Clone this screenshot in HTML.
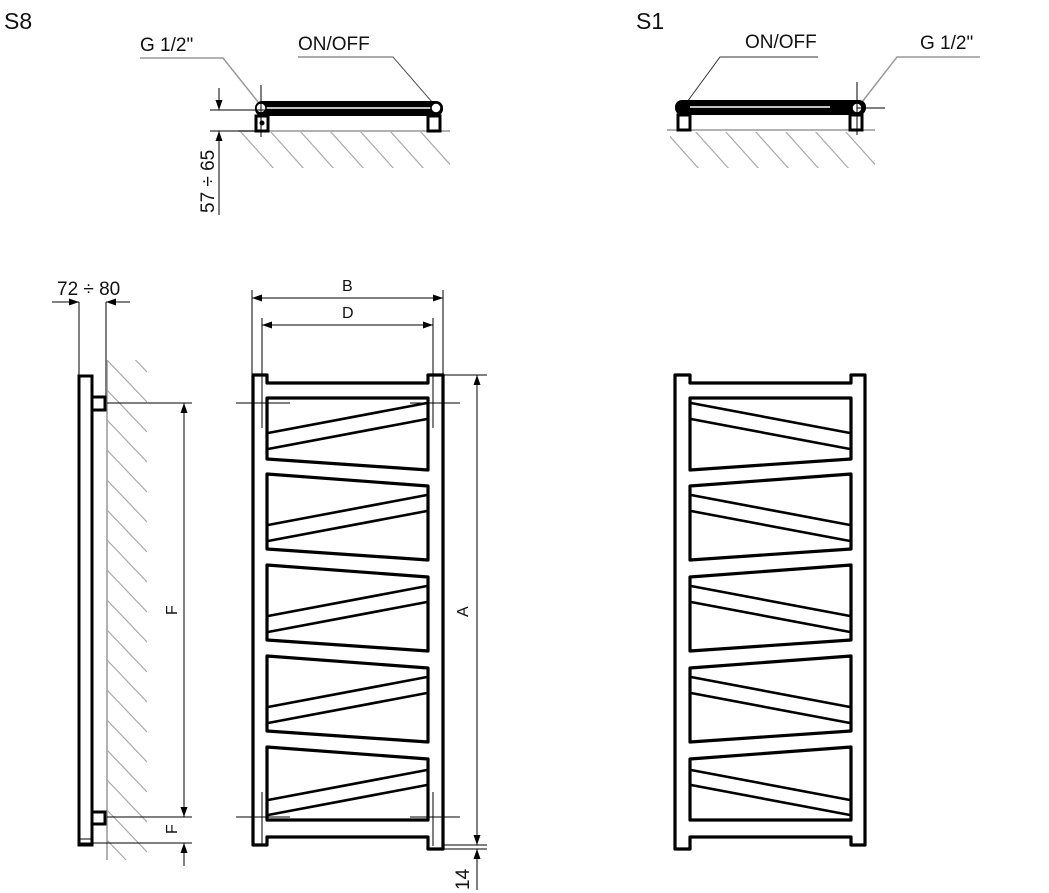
<!DOCTYPE html>
<html><head><meta charset="utf-8"><style>
html,body{margin:0;padding:0;background:#fff;}
svg{display:block;}
text{font-family:"Liberation Sans",sans-serif;fill:#111;}
</style></head><body>
<svg width="1049" height="893" viewBox="0 0 1049 893" xmlns="http://www.w3.org/2000/svg">
<defs>
<marker id="ar" viewBox="0 0 10 10" refX="10" refY="5" markerWidth="10" markerHeight="10" markerUnits="userSpaceOnUse" orient="auto-start-reverse"><path d="M0,1.5 L10,5 L0,8.5 Z" fill="#000"/></marker>
<clipPath id="c1"><rect x="107" y="360" width="40" height="500"/></clipPath>
<clipPath id="c2"><rect x="238" y="132" width="212" height="36"/></clipPath>
<clipPath id="c3"><rect x="670" y="132" width="205" height="36"/></clipPath>
<g id="front">
<path d="M253,845 L253,375 L267,375 L267,383 L428,383 L428,375 L443,375 L443,849 L428,849 L428,837 L267,837 L267,845 Z" fill="none" stroke="#000" stroke-width="3.2" stroke-linejoin="round"/>
<g fill="none" stroke="#000" stroke-width="3.2" stroke-linejoin="round">
<polygon points="267,398 428,398 428,470 267,459"/>
<polygon points="267,474 428,486 428,560 267,549"/>
<polygon points="267,565 428,577 428,651 267,640"/>
<polygon points="267,656 428,668 428,742 267,731"/>
<polygon points="267,747 428,759 428,820 267,820"/>
</g>
<g stroke="#000" stroke-width="2.6">
<line x1="268" y1="433" x2="427" y2="403"/><line x1="268" y1="449" x2="427" y2="419"/>
<line x1="268" y1="525" x2="427" y2="495"/><line x1="268" y1="541" x2="427" y2="511"/>
<line x1="268" y1="616" x2="427" y2="586"/><line x1="268" y1="632" x2="427" y2="602"/>
<line x1="268" y1="707" x2="427" y2="677"/><line x1="268" y1="723" x2="427" y2="693"/>
<line x1="268" y1="800" x2="427" y2="770"/><line x1="268" y1="815" x2="427" y2="785"/>
</g>
</g>
</defs>

<text x="4" y="29" font-size="23">S8</text>
<text x="636" y="29" font-size="23">S1</text>

<!-- S8 top view -->
<text x="140" y="51" font-size="19">G 1/2"</text>
<text x="298" y="50" font-size="19">ON/OFF</text>
<polyline points="140,58 223,58 258,102" fill="none" stroke="#999" stroke-width="1.5"/>
<polyline points="298,57 393,57 432,102" fill="none" stroke="#555" stroke-width="1"/>
<line x1="238" y1="131" x2="450" y2="131" stroke="#999" stroke-width="1.5"/>
<g clip-path="url(#c2)" stroke="#aaa" stroke-width="1.2">
<line x1="240" y1="131" x2="275" y2="170"/><line x1="270" y1="131" x2="305" y2="170"/><line x1="300" y1="131" x2="335" y2="170"/><line x1="330" y1="131" x2="365" y2="170"/><line x1="360" y1="131" x2="395" y2="170"/><line x1="390" y1="131" x2="425" y2="170"/><line x1="420" y1="131" x2="455" y2="170"/>
</g>
<rect x="255" y="101" width="188" height="15" rx="7" fill="#000"/>
<line x1="266" y1="108" x2="432" y2="108" stroke="#fff" stroke-width="1.5"/>
<circle cx="261" cy="108" r="5" fill="#fff" stroke="#000" stroke-width="1.5"/>
<circle cx="436" cy="108" r="5" fill="#fff" stroke="#000" stroke-width="1.5"/>
<rect x="256" y="116" width="12" height="15" fill="#fff" stroke="#000" stroke-width="3"/>
<circle cx="262" cy="123" r="2.5" fill="#000"/>
<rect x="428" y="116" width="12" height="15" fill="#fff" stroke="#000" stroke-width="3"/>
<line x1="261" y1="85" x2="261" y2="137" stroke="#000"/>
<line x1="210" y1="110" x2="265" y2="110" stroke="#000"/>
<line x1="210" y1="131" x2="262" y2="131" stroke="#000"/>
<line x1="219" y1="88" x2="219" y2="110" stroke="#000" marker-end="url(#ar)"/>
<line x1="219" y1="215" x2="219" y2="131" stroke="#000" marker-end="url(#ar)"/>
<text transform="translate(214,213) rotate(-90)" font-size="19">57 ÷ 65</text>

<!-- S1 top view -->
<text x="745" y="48" font-size="19">ON/OFF</text>
<text x="920" y="49" font-size="19">G 1/2"</text>
<polyline points="818,57 720,57 687,102" fill="none" stroke="#333" stroke-width="1"/>
<polyline points="980,57 897,57 862,102" fill="none" stroke="#999" stroke-width="1.5"/>
<line x1="667" y1="130" x2="875" y2="130" stroke="#999" stroke-width="1.5"/>
<g clip-path="url(#c3)" stroke="#aaa" stroke-width="1.2">
<line x1="665" y1="131" x2="700" y2="170"/><line x1="695" y1="131" x2="730" y2="170"/><line x1="725" y1="131" x2="760" y2="170"/><line x1="755" y1="131" x2="790" y2="170"/><line x1="785" y1="131" x2="820" y2="170"/><line x1="815" y1="131" x2="850" y2="170"/><line x1="845" y1="131" x2="880" y2="170"/>
</g>
<rect x="675" y="100" width="191" height="15" rx="7" fill="#000"/>
<line x1="690" y1="107" x2="830" y2="107" stroke="#fff" stroke-width="1.5"/>
<circle cx="857" cy="108" r="5" fill="#fff" stroke="#000" stroke-width="1.5"/>
<rect x="678" y="115" width="12" height="15" fill="#fff" stroke="#000" stroke-width="3"/>
<rect x="850" y="115" width="12" height="15" fill="#fff" stroke="#000" stroke-width="3"/>
<line x1="857" y1="82" x2="857" y2="135" stroke="#000"/>
<line x1="857" y1="108" x2="885" y2="108" stroke="#000"/>

<!-- side view -->
<text x="57" y="295" font-size="19">72 ÷ 80</text>
<line x1="79" y1="302" x2="79" y2="375" stroke="#000"/>
<line x1="106" y1="302" x2="106" y2="400" stroke="#000"/>
<line x1="52" y1="302" x2="79" y2="302" stroke="#000" marker-end="url(#ar)"/>
<line x1="130" y1="302" x2="106" y2="302" stroke="#000" marker-end="url(#ar)"/>
<line x1="107" y1="360" x2="107" y2="860" stroke="#999" stroke-width="1.5"/>
<g clip-path="url(#c1)" stroke="#aaa" stroke-width="1.2">
<line x1="107" y1="330" x2="147" y2="372"/><line x1="107" y1="360" x2="147" y2="402"/><line x1="107" y1="390" x2="147" y2="432"/><line x1="107" y1="420" x2="147" y2="462"/><line x1="107" y1="450" x2="147" y2="492"/><line x1="107" y1="480" x2="147" y2="522"/><line x1="107" y1="510" x2="147" y2="552"/><line x1="107" y1="540" x2="147" y2="582"/><line x1="107" y1="570" x2="147" y2="612"/><line x1="107" y1="600" x2="147" y2="642"/><line x1="107" y1="630" x2="147" y2="672"/><line x1="107" y1="660" x2="147" y2="702"/><line x1="107" y1="690" x2="147" y2="732"/><line x1="107" y1="720" x2="147" y2="762"/><line x1="107" y1="750" x2="147" y2="792"/><line x1="107" y1="780" x2="147" y2="822"/><line x1="107" y1="810" x2="147" y2="852"/><line x1="107" y1="840" x2="147" y2="882"/>
</g>
<rect x="79" y="376" width="13" height="469" fill="#fff" stroke="#000" stroke-width="3"/>
<line x1="79" y1="839" x2="92" y2="839" stroke="#000" stroke-width="1"/>
<rect x="92" y="397" width="13" height="13" fill="#fff" stroke="#000" stroke-width="3"/>
<rect x="92" y="812" width="13" height="12" fill="#fff" stroke="#000" stroke-width="3"/>
<line x1="107" y1="403" x2="192" y2="403" stroke="#000"/>
<line x1="107" y1="817" x2="192" y2="817" stroke="#000"/>
<line x1="80" y1="843" x2="192" y2="843" stroke="#000"/>
<line x1="184" y1="403" x2="184" y2="817" stroke="#000" marker-start="url(#ar)" marker-end="url(#ar)"/>
<line x1="184" y1="866" x2="184" y2="843" stroke="#000" marker-end="url(#ar)"/>
<text transform="translate(177,615) rotate(-90)" font-size="16">F</text>
<text transform="translate(177,834) rotate(-90)" font-size="16">F</text>

<!-- S8 front -->
<use href="#front"/>
<g stroke="#000" stroke-width="1">
<line x1="252" y1="290" x2="252" y2="375"/><line x1="443" y1="290" x2="443" y2="375"/>
<line x1="262" y1="318" x2="262" y2="428"/><line x1="433" y1="318" x2="433" y2="428"/>
<line x1="236" y1="403" x2="290" y2="403"/><line x1="410" y1="403" x2="460" y2="403"/>
<line x1="262" y1="792" x2="262" y2="846"/><line x1="433" y1="792" x2="433" y2="846"/>
<line x1="236" y1="817" x2="290" y2="817"/><line x1="410" y1="817" x2="460" y2="817"/>
<line x1="443" y1="375" x2="487" y2="375"/><line x1="443" y1="845" x2="487" y2="845"/><line x1="443" y1="849" x2="487" y2="849"/>
</g>
<line x1="252" y1="298" x2="443" y2="298" stroke="#000" marker-start="url(#ar)" marker-end="url(#ar)"/>
<line x1="262" y1="325" x2="433" y2="325" stroke="#000" marker-start="url(#ar)" marker-end="url(#ar)"/>
<text x="342" y="291" font-size="16">B</text>
<text x="342" y="318" font-size="16">D</text>
<line x1="477" y1="375" x2="477" y2="845" stroke="#000" marker-start="url(#ar)" marker-end="url(#ar)"/>
<line x1="477" y1="890" x2="477" y2="849" stroke="#000" marker-end="url(#ar)"/>
<text transform="translate(468,617) rotate(-90)" font-size="16">A</text>
<text transform="translate(469,890) rotate(-90)" font-size="19">14</text>

<!-- S1 front -->
<g transform="matrix(-1,0,0,1,1118,0)"><use href="#front"/></g>
</svg>
</body></html>
